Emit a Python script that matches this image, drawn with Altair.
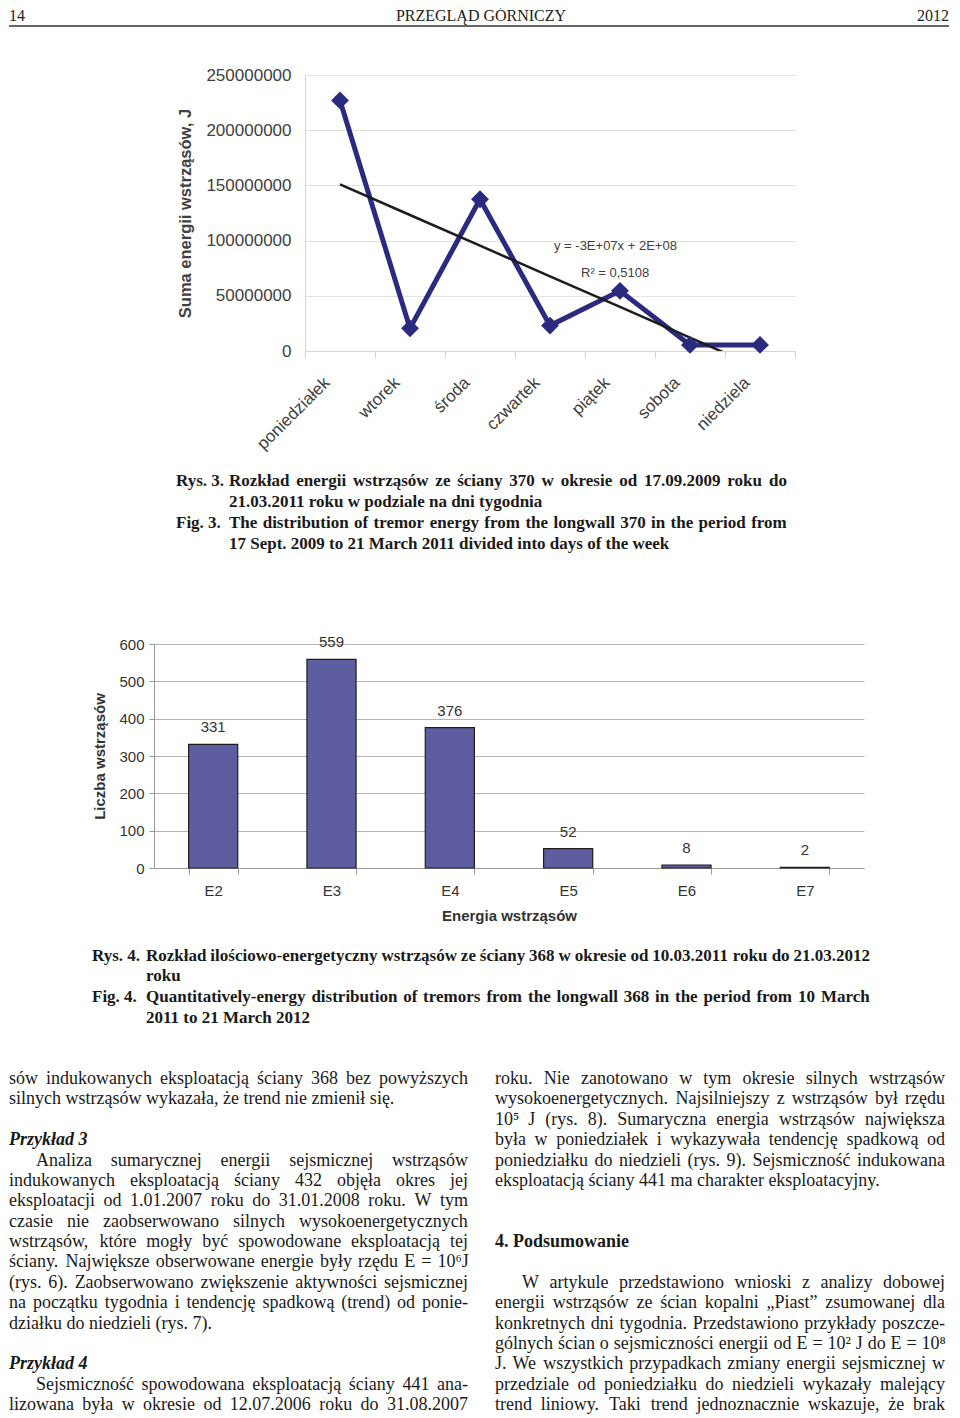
import altair as alt
import pandas as pd
import numpy as np

# ---------------- data ----------------
days = ["poniedziałek", "wtorek", "środa", "czwartek", "piątek", "sobota", "niedziela"]
energy = [227.0e6, 20.5e6, 137.5e6, 23.0e6, 54.5e6, 5.5e6, 5.5e6]
energy_ticks = [0, 50000000, 100000000, 150000000, 200000000, 250000000]
trend_label = "y = -3E+07x + 2E+08"
r2_label = "R² = 0,5108"

classes = ["E2", "E3", "E4", "E5", "E6", "E7"]
counts = [331, 559, 376, 52, 8, 2]
count_ticks = [0, 100, 200, 300, 400, 500, 600]

header_left = "14"
header_mid = "PRZEGLĄD GÓRNICZY"
header_right = "2012"

# (label, text, justified)
cap1 = [
    ("Rys. 3.", "Rozkład energii wstrząsów ze ściany 370 w okresie od 17.09.2009 roku do", True),
    ("", "21.03.2011 roku  w podziale na dni tygodnia", False),
    ("Fig. 3.", "The distribution of tremor energy from the longwall 370 in the period from", True),
    ("", "17 Sept. 2009 to 21 March 2011 divided into days of the week", False),
]
cap2 = [
    ("Rys. 4.", "Rozkład ilościowo-energetyczny wstrząsów ze ściany 368 w okresie od 10.03.2011 roku do 21.03.2012", True),
    ("", "roku", False),
    ("Fig. 4.", "Quantitatively-energy distribution of tremors from the longwall 368 in the period from 10 March", True),
    ("", "2011 to 21 March 2012", False),
]

# (line index, style, indent, justified, text)
left_col = [
    (0, "n", 0, 1, "sów indukowanych eksploatacją ściany 368 bez powyższych"),
    (1, "n", 0, 0, "silnych wstrząsów wykazała, że trend nie zmienił się."),
    (3, "bi", 0, 0, "Przykład 3"),
    (4, "n", 1, 1, "Analiza sumarycznej energii sejsmicznej wstrząsów"),
    (5, "n", 0, 1, "indukowanych eksploatacją ściany 432 objęła okres jej"),
    (6, "n", 0, 1, "eksploatacji od 1.01.2007 roku do 31.01.2008 roku. W tym"),
    (7, "n", 0, 1, "czasie nie zaobserwowano silnych wysokoenergetycznych"),
    (8, "n", 0, 1, "wstrząsów, które mogły być spowodowane eksploatacją tej"),
    (9, "n", 0, 1, "ściany. Największe obserwowane energie były rzędu E = 10⁶J"),
    (10, "n", 0, 1, "(rys. 6). Zaobserwowano zwiększenie aktywności sejsmicznej"),
    (11, "n", 0, 1, "na początku tygodnia i tendencję spadkową (trend) od ponie-"),
    (12, "n", 0, 0, "działku do niedzieli (rys. 7)."),
    (14, "bi", 0, 0, "Przykład 4"),
    (15, "n", 1, 1, "Sejsmiczność spowodowana eksploatacją ściany 441 ana-"),
    (16, "n", 0, 1, "lizowana była w okresie od 12.07.2006 roku do 31.08.2007"),
]
right_col = [
    (0, "n", 0, 1, "roku. Nie zanotowano w tym okresie silnych wstrząsów"),
    (1, "n", 0, 1, "wysokoenergetycznych. Najsilniejszy z wstrząsów był rzędu"),
    (2, "n", 0, 1, "10⁵ J (rys. 8). Sumaryczna energia wstrząsów największa"),
    (3, "n", 0, 1, "była w poniedziałek i wykazywała tendencję spadkową od"),
    (4, "n", 0, 1, "poniedziałku do niedzieli (rys. 9). Sejsmiczność indukowana"),
    (5, "n", 0, 0, "eksploatacją ściany 441 ma charakter eksploatacyjny."),
    (8, "b", 0, 0, "4.  Podsumowanie"),
    (10, "n", 1, 1, "W artykule przedstawiono wnioski z analizy dobowej"),
    (11, "n", 0, 1, "energii wstrząsów ze ścian kopalni „Piast” zsumowanej dla"),
    (12, "n", 0, 1, "konkretnych dni tygodnia. Przedstawiono przykłady poszcze-"),
    (13, "n", 0, 1, "gólnych ścian o sejsmiczności energii od E = 10² J do E = 10⁸"),
    (14, "n", 0, 1, "J. We wszystkich przypadkach zmiany energii sejsmicznej w"),
    (15, "n", 0, 1, "przedziale od poniedziałku do niedzieli wykazały malejący"),
    (16, "n", 0, 1, "trend liniowy. Taki trend jednoznacznie wskazuje, że brak"),
]

SANS = "Liberation Sans"
SERIF = "Liberation Serif"
NAVY = "#2b2a80"
BAR = "#5e5da0"
PAGE_W = 940

# ---- Times/Liberation Serif advance widths (1/1000 em), used to justify lines ----
def _table(lower, upper, extra):
    t = {}
    for ch, w in zip("abcdefghijklmnopqrstuvwxyz", lower):
        t[ch] = w
    for ch, w in zip("ABCDEFGHIJKLMNOPQRSTUVWXYZ", upper):
        t[ch] = w
    for d in "0123456789":
        t[d] = 500
    t.update(extra)
    for base, accs in {"a": "ą", "c": "ć", "e": "ę", "l": "ł", "n": "ń", "o": "ó",
                       "s": "ś", "z": "źż", "A": "Ą", "E": "Ę", "O": "Ó", "S": "Ś",
                       "L": "Ł", "Z": "ŻŹ"}.items():
        for a in accs:
            t[a] = t[base]
    return t


REG_W = _table(
    [444, 500, 444, 500, 444, 333, 500, 500, 278, 278, 500, 278, 778, 500, 500, 500, 500,
     333, 389, 278, 500, 500, 722, 500, 500, 444],
    [722, 667, 667, 722, 611, 556, 722, 722, 333, 389, 722, 611, 889, 722, 722, 556, 722,
     667, 556, 611, 722, 722, 944, 722, 722, 611],
    {" ": 250, ".": 250, ",": 250, "(": 333, ")": 333, "-": 333, "=": 564, "„": 444,
     "”": 444, "⁶": 300, "⁵": 300, "²": 300, "⁸": 300})
BOLD_W = _table(
    [500, 556, 444, 556, 444, 333, 500, 556, 278, 333, 556, 278, 833, 556, 500, 556, 556,
     444, 389, 333, 556, 500, 722, 500, 500, 444],
    [722, 667, 722, 722, 667, 611, 778, 778, 389, 500, 778, 667, 944, 722, 778, 611, 778,
     722, 556, 667, 722, 722, 1000, 722, 722, 667],
    {" ": 250, ".": 250, ",": 250, "(": 333, ")": 333, "-": 333})


def word_w(word, table, size):
    return sum(table.get(ch, 500) for ch in word) / 1000.0 * size


def place_line(text, x0, x1, table, size, justified):
    """Return (piece, x) items; justified lines spread words from x0 to x1."""
    if not justified:
        return [(text, x0)]
    words = text.split()
    widths = [word_w(w, table, size) for w in words]
    gap = (x1 - x0 - sum(widths)) / max(len(words) - 1, 1)
    gap = max(gap, 0.15 * size)
    items, x = [], x0
    for w, ww in zip(words, widths):
        items.append((w, x))
        x += ww + gap
    return items


def bounds_rule(left, top, bottom):
    """Invisible rule fixing a cell's layout bounds."""
    return alt.Chart(pd.DataFrame({"b": [0]})).mark_rule(
        stroke="white", strokeOpacity=0, strokeWidth=0.1
    ).encode(x=alt.value(-left), x2=alt.value(-left + 1),
             y=alt.value(-top), y2=alt.value(bottom))


def spacer(w):
    return alt.Chart(pd.DataFrame({"b": [0]})).mark_rule(
        stroke="white", strokeOpacity=0, strokeWidth=0.1
    ).encode(x=alt.value(0), x2=alt.value(w), y=alt.value(0)).properties(width=w, height=1)


def text_cell(rows, height, font, size, color="#1a1a1a"):
    df = pd.DataFrame(rows, columns=["text", "px", "py", "weight", "fstyle"])
    layers = []
    for (w, s), sub in df.groupby(["weight", "fstyle"]):
        layers.append(
            alt.Chart(sub).mark_text(
                align="left", baseline="middle", font=font, fontSize=size,
                fontWeight=w, fontStyle=s, color=color
            ).encode(
                x=alt.X("px:Q", scale=None, axis=None),
                y=alt.Y("py:Q", scale=None, axis=None),
                text="text:N",
            )
        )
    layers.append(bounds_rule(0, 0, height))
    return alt.layer(*layers).properties(width=PAGE_W, height=height)


# ---------------- header ----------------
hdr_df = pd.DataFrame({"t": [header_left, header_mid, header_right],
                       "px": [0, 472, 940],
                       "al": ["left", "center", "right"]})
hdr_layers = []
for al in ["left", "center", "right"]:
    hdr_layers.append(
        alt.Chart(hdr_df[hdr_df["al"] == al]).mark_text(
            align=al, baseline="top", font=SERIF, fontSize=16, color="#222"
        ).encode(x=alt.X("px:Q", scale=None, axis=None), y=alt.value(0), text="t:N")
    )
hdr_layers.append(
    alt.Chart(pd.DataFrame({"b": [0]})).mark_rule(color="#333", strokeWidth=1.5).encode(
        x=alt.value(0), x2=alt.value(940), y=alt.value(18))
)
hdr_layers.append(bounds_rule(0, 0, 32))
header = alt.layer(*hdr_layers).properties(width=PAGE_W, height=32)

# ---------------- chart 1 ----------------
idx = np.arange(1, len(days) + 1)
slope, intercept = np.polyfit(idx, energy, 1)
df1 = pd.DataFrame({"day": days, "energy": energy, "trend": slope * idx + intercept})

x1 = alt.X("day:N", sort=days,
           scale=alt.Scale(type="band", paddingInner=0, paddingOuter=0),
           axis=alt.Axis(title=None, labelAngle=-45, labelFont=SANS, labelFontSize=17,
                         labelColor="#404040", labelPadding=16, labelOffset=-19,
                         tickBand="extent", tickSize=7, tickColor="#d4d4d4",
                         domainColor="#d4d4d4", grid=False, labelLimit=300))


def y1(field):
    return alt.Y(field, scale=alt.Scale(domain=[0, 250000000], nice=False),
                 axis=alt.Axis(values=energy_ticks, format="d",
                               title="Suma energii wstrząsów, J", titleFont=SANS,
                               titleFontSize=16.5, titleFontWeight="bold",
                               titleColor="#404040", titlePadding=12,
                               labelFont=SANS, labelFontSize=17, labelColor="#404040",
                               labelPadding=14, tickSize=0, domainColor="#d4d4d4",
                               gridColor="#e2e2e2"))


base1 = alt.Chart(df1)
line1 = base1.mark_line(color=NAVY, strokeWidth=5).encode(x=x1, y=y1("energy:Q"))
pts1 = base1.mark_point(shape="diamond", filled=True, size=320, color=NAVY,
                        opacity=1).encode(x=x1, y=y1("energy:Q"))
trend1 = base1.mark_line(color="#1c1c1c", strokeWidth=2.5, clip=True).encode(
    x=x1, y=y1("trend:Q"))
ann1 = alt.Chart(pd.DataFrame({"t": [trend_label]})).mark_text(
    align="left", baseline="middle", font=SANS, fontSize=13, color="#404040"
).encode(text="t:N", x=alt.value(249), y=alt.value(171))
ann2 = alt.Chart(pd.DataFrame({"t": [r2_label]})).mark_text(
    align="left", baseline="middle", font=SANS, fontSize=13, color="#404040"
).encode(text="t:N", x=alt.value(276), y=alt.value(198))
chart1 = alt.layer(line1, trend1, pts1, ann1, ann2, bounds_rule(150, 35, 390)).properties(
    width=490, height=276)

# ---------------- captions ----------------
CAP_SIZE = 17


def caption_rows(lines, x_lab, x_txt, x_end, ys):
    rows = []
    for (lab, txt, just), yy in zip(lines, ys):
        if lab:
            rows.append((lab, x_lab, yy, "bold", "normal"))
        for piece, px in place_line(txt, x_txt, x_end, BOLD_W, CAP_SIZE, just):
            rows.append((piece, px, yy, "bold", "normal"))
    return rows


caption1 = text_cell(caption_rows(cap1, 167, 220, 778, [16, 37, 58, 79]), 135, SERIF, CAP_SIZE)
caption2 = text_cell(caption_rows(cap2, 83, 137, 861, [22, 42, 63, 84]), 125, SERIF, CAP_SIZE)

# ---------------- chart 2 ----------------
df2 = pd.DataFrame({"cls": classes, "n": counts})
x2 = alt.X("cls:N", sort=classes,
           scale=alt.Scale(paddingInner=0.585, paddingOuter=0.2925),
           axis=alt.Axis(title="Energia wstrząsów", labelAngle=0, labelFont=SANS,
                         labelFontSize=15, labelColor="#333", labelPadding=9,
                         titleFont=SANS, titleFontSize=15, titleFontWeight="bold",
                         titleColor="#333", titlePadding=10, tickBand="extent",
                         tickSize=6, tickColor="#9a9a9a", domainColor="#9a9a9a",
                         grid=False))
y2 = alt.Y("n:Q", scale=alt.Scale(domain=[0, 600], nice=False),
           axis=alt.Axis(values=count_ticks, title="Liczba wstrząsów", titleFont=SANS,
                         titleFontSize=15, titleFontWeight="bold", titleColor="#333",
                         titlePadding=11, labelFont=SANS, labelFontSize=15,
                         labelColor="#333", labelPadding=5, tickSize=5,
                         tickColor="#9a9a9a", domainColor="#9a9a9a",
                         gridColor="#b5b5b5"))
bars = alt.Chart(df2).mark_bar(color=BAR, stroke="#1e1e1e", strokeWidth=1.2).encode(x=x2, y=y2)
blabels = alt.Chart(df2).mark_text(baseline="bottom", dy=-9, font=SANS, fontSize=15,
                                   color="#333").encode(x=x2, y=y2, text="n:Q")
chart2 = alt.layer(bars, blabels, bounds_rule(70, 44, 290)).properties(width=710, height=224)

# ---------------- body text ----------------
BODY_SIZE = 18
LINE_H = 20.375
body_rows = []
for col, x0, x_end in [(left_col, 0, 459), (right_col, 486, 936)]:
    for i, st, indent, just, txt in col:
        w = "bold" if "b" in st else "normal"
        s = "italic" if "i" in st else "normal"
        start = x0 + (27 if indent else 0)
        for piece, px in place_line(txt, start, x_end, REG_W, BODY_SIZE, just):
            body_rows.append((piece, px, 20 + i * LINE_H, w, s))
body = text_cell(body_rows, 352, SERIF, BODY_SIZE)

# rows: a spacer column shifts each plot to its place on the page
row1 = alt.hconcat(spacer(146), chart1, spacing=0)
row2 = alt.hconcat(spacer(75), chart2, spacing=0)

page = alt.vconcat(header, row1, caption1, row2, caption2, body, spacing=0).properties(
    padding=0, background="white"
).configure_view(stroke=None)

page.save("out.html", embed_options={"renderer": "svg", "actions": False})
